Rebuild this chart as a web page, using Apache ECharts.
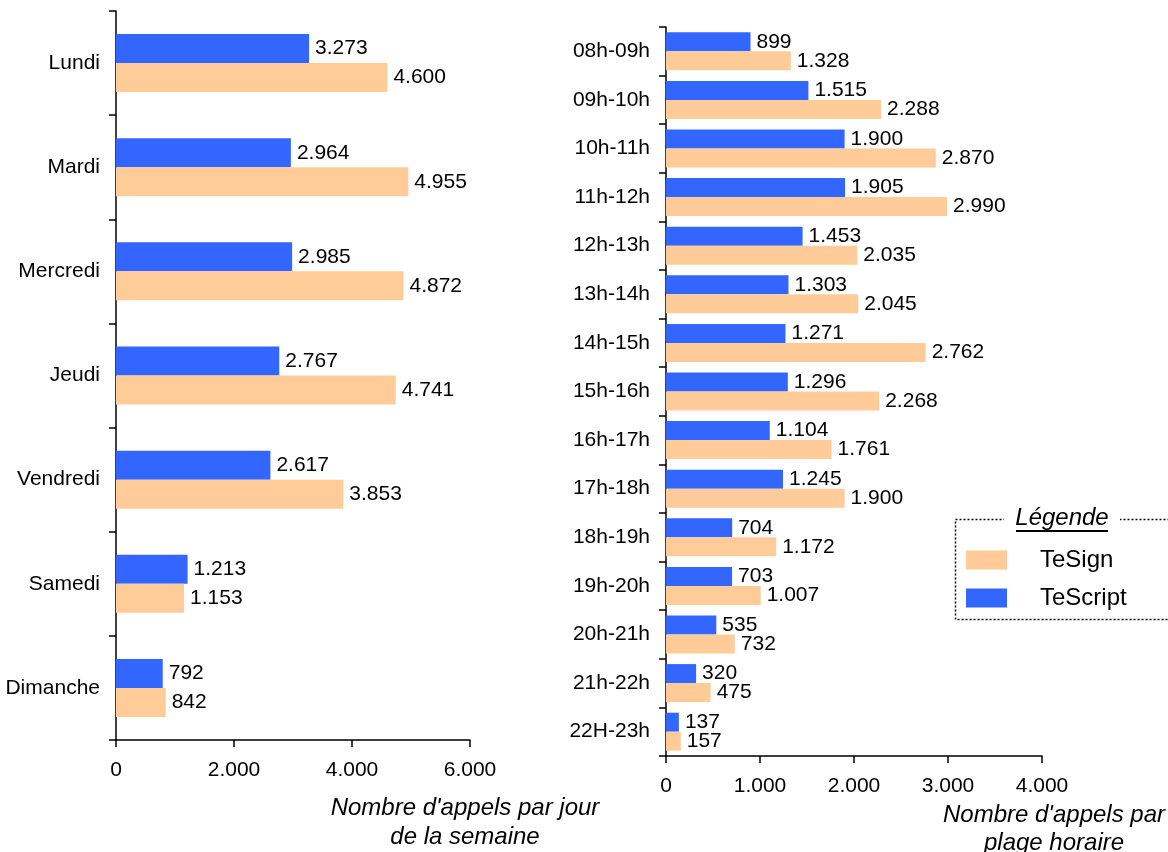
<!DOCTYPE html>
<html>
<head>
<meta charset="utf-8">
<script src="https://cdn.jsdelivr.net/npm/echarts@6/dist/echarts.min.js"></script>
<style>
html,body{margin:0;padding:0;background:#fff;}
#chart{width:1168px;height:852px;}
</style>
</head>
<body>
<div id="chart"></div>
<script>
const days = ['Lundi','Mardi','Mercredi','Jeudi','Vendredi','Samedi','Dimanche'];
const dayTeScript = [3273, 2964, 2985, 2767, 2617, 1213, 792];
const dayTeSign = [4600, 4955, 4872, 4741, 3853, 1153, 842];

const hours = ['08h-09h','09h-10h','10h-11h','11h-12h','12h-13h','13h-14h','14h-15h','15h-16h','16h-17h','17h-18h','18h-19h','19h-20h','20h-21h','21h-22h','22H-23h'];
const hourTeScript = [899, 1515, 1900, 1905, 1453, 1303, 1271, 1296, 1104, 1245, 704, 703, 535, 320, 137];
const hourTeSign = [1328, 2288, 2870, 2990, 2035, 2045, 2762, 2268, 1761, 1900, 1172, 1007, 732, 475, 157];

const BLUE = '#3366FF';
const ORANGE = '#FFCC99';
const FONT = 'Liberation Sans, Arial, Helvetica, sans-serif';

function fmt(v){
  v = Math.round(v);
  return String(v).replace(/\B(?=(\d{3})+(?!\d))/g, '.');
}

const axisLine = {show:true, lineStyle:{color:'#000', width:1.5}};
const axisTick = {show:true, length:7, lineStyle:{color:'#000', width:1.5}};

function valueAxis(gridIndex, max, interval){
  return {
    type:'value', gridIndex, min:0, max, interval,
    axisLine, axisTick:Object.assign({inside:false}, axisTick),
    splitLine:{show:false},
    axisLabel:{color:'#000', fontSize:21, fontFamily:FONT, margin:20, formatter:fmt}
  };
}
function catAxis(gridIndex, data){
  return {
    type:'category', gridIndex, data, inverse:true,
    axisLine, axisTick:Object.assign({interval:0}, axisTick),
    axisLabel:{color:'#000', fontSize:21, fontFamily:FONT, margin:16, interval:0}
  };
}
function barSeries(name, color, xi, yi, data, bw){
  return {
    type:'bar', name, xAxisIndex:xi, yAxisIndex:yi, data,
    barWidth:bw, barGap:'0%',
    itemStyle:{color},
    label:{show:true, position:'right', distance:6, color:'#000', fontSize:21, fontFamily:FONT,
      formatter:p=>fmt(p.value)},
    emphasis:{disabled:true}, animation:false
  };
}

const chart = echarts.init(document.getElementById('chart'), null, {renderer:'canvas'});
chart.setOption({
  animation:false,
  textStyle:{fontFamily:FONT},
  grid:[
    {left:116, top:11, width:354, height:729},
    {left:666, top:27, width:376, height:729}
  ],
  xAxis:[valueAxis(0, 6000, 2000), valueAxis(1, 4000, 1000)],
  yAxis:[catAxis(0, days), catAxis(1, hours)],
  legend:{
    data:['TeSign','TeScript'],
    orient:'vertical', left:966, top:548, padding:0,
    itemWidth:41, itemHeight:19, itemGap:14, icon:'rect',
    textStyle:{color:'#000', fontSize:24, fontFamily:FONT, padding:[0,0,0,28]},
    selectedMode:false
  },
  series:[
    barSeries('TeScript', BLUE, 0, 0, dayTeScript, 29),
    barSeries('TeSign', ORANGE, 0, 0, dayTeSign, 29),
    barSeries('TeScript', BLUE, 1, 1, hourTeScript, 19),
    barSeries('TeSign', ORANGE, 1, 1, hourTeSign, 19)
  ],
  graphic:[
    {type:'rect', shape:{x:955.5, y:519.5, width:240, height:100},
      style:{fill:null, stroke:'#000', lineWidth:1.5, lineDash:[2,2]}, z:10},
    {type:'rect', shape:{x:1004, y:508, width:116, height:22}, style:{fill:'#fff'}, z:11},
    {type:'text', x:1062, y:518, z:12,
      style:{text:'Légende', fill:'#000', font:'italic 24px '+FONT, align:'center', verticalAlign:'middle'}},
    {type:'line', shape:{x1:1016, y1:531, x2:1108, y2:531}, style:{stroke:'#000', lineWidth:2}, z:12},
    {type:'text', x:465, y:808, style:{text:"Nombre d'appels par jour", fill:'#000', font:'italic 24px '+FONT, align:'center', verticalAlign:'middle'}},
    {type:'text', x:465, y:837, style:{text:'de la semaine', fill:'#000', font:'italic 24px '+FONT, align:'center', verticalAlign:'middle'}},
    {type:'text', x:1054, y:815, style:{text:"Nombre d'appels par", fill:'#000', font:'italic 24px '+FONT, align:'center', verticalAlign:'middle'}},
    {type:'text', x:1054, y:843, style:{text:'plage horaire', fill:'#000', font:'italic 24px '+FONT, align:'center', verticalAlign:'middle'}}
  ]
});
</script>
</body>
</html>
